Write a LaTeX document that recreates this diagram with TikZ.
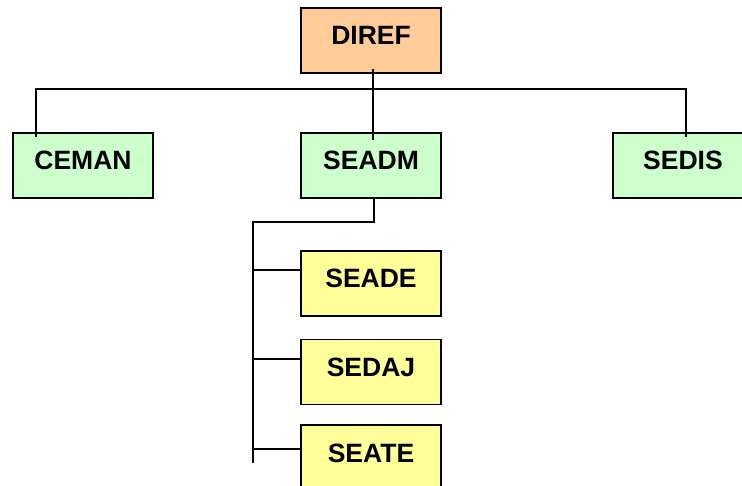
\documentclass[tikz,border=0pt]{standalone}
\usepackage{fontspec}
\setmainfont{Liberation Sans}
\usetikzlibrary{positioning}

\definecolor{peach}{HTML}{FFCC99}
\definecolor{mint}{HTML}{CCFFCC}
\definecolor{lemon}{HTML}{FFFF99}

\begin{document}
\begin{tikzpicture}[x=1pt,y=-1pt,
  unit/.style={draw=black,line width=1.7pt,minimum width=140pt,minimum height=65pt,
    inner sep=0pt,text height=19pt,text depth=10pt,font=\fontsize{26.5}{28}\selectfont\bfseries},
  head/.style={unit,fill=peach},
  dept/.style={unit,fill=mint},
  sect/.style={unit,fill=lemon},
  link/.style={line width=1.8pt}]

\clip (0,0) rectangle (742,486);
\useasboundingbox (0,0) rectangle (742,486);

% Director
\node[head] (diref) at (371,40.5) {DIREF};

% Departments
\node[dept] (ceman) at (83,165.5) {CEMAN};
\node[dept] (seadm) at (371,165.5) {SEADM};
\node[dept] (sedis) at (683,165.5) {SEDIS};

% Sections under SEADM
\foreach \lab/\nm/\y in {SEADE/seade/283.5,SEDAJ/sedaj/372,SEATE/seate/457.5}
{
\node[sect] (\nm) at (371,\y) {\lab};
}

% Bus under the director
\coordinate (bus) at (373,89);
\draw[link] ([xshift=2pt,yshift=5pt]diref.south) -- ([xshift=2pt,yshift=-8pt]seadm.north);
\draw[link] ([xshift=24pt,yshift=-5pt]ceman.north west) |- (bus) -| ([xshift=3pt,yshift=-5pt]sedis.north);

% Spine to the sections
\coordinate (spine) at (253,222);
\coordinate (spineend) at (253,463);
\draw[link] ([xshift=3pt]seadm.south) |- (spine) -- (spineend);
\foreach \nm/\d in {seade/20,sedaj/20,seate/25}
{
\coordinate (\nm-in) at ([yshift=-\d pt]\nm.north west);
\draw[link] (spine |- \nm-in) -- (\nm-in);
}

\end{tikzpicture}
\end{document}
